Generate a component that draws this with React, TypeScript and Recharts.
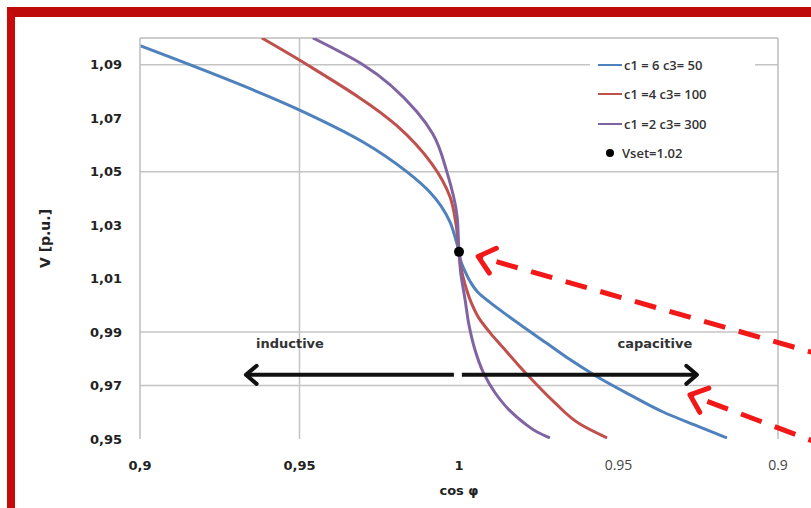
import {
  CartesianGrid,
  ComposedChart,
  Legend,
  Line,
  ReferenceDot,
  ReferenceLine,
  Scatter,
  XAxis,
  YAxis,
} from 'recharts';

// x runs 0.9 (inductive) -> 1 -> 0.9 (capacitive); stored as 0.9..1.1 for a linear scale
const xTicks = [0.9, 0.95, 1, 1.05, 1.1];
const xTickLabels = ['0,9', '0,95', '1', '0.95', '0.9'];
const yTicks = [0.95, 0.97, 0.99, 1.01, 1.03, 1.05, 1.07, 1.09];
const gridY = [0.97, 0.99, 1.05, 1.09];
const gridX = [0.95];

const curveC6 = [
  { x: 0.9, y: 1.0971 },
  { x: 0.9492, y: 1.0735 },
  { x: 0.9699, y: 1.0611 },
  { x: 0.9837, y: 1.0499 },
  { x: 0.9909, y: 1.0423 },
  { x: 0.9972, y: 1.0311 },
  { x: 0.9987, y: 1.0258 },
  { x: 1.0, y: 1.02 },
  { x: 1.0006, y: 1.0164 },
  { x: 1.0019, y: 1.0127 },
  { x: 1.0035, y: 1.0089 },
  { x: 1.006, y: 1.0048 },
  { x: 1.0097, y: 1.0011 },
  { x: 1.0144, y: 0.9969 },
  { x: 1.0201, y: 0.992 },
  { x: 1.0273, y: 0.986 },
  { x: 1.0348, y: 0.9797 },
  { x: 1.0433, y: 0.9733 },
  { x: 1.053, y: 0.9669 },
  { x: 1.064, y: 0.9601 },
  { x: 1.0746, y: 0.9549 },
  { x: 1.084, y: 0.9504 },
];

const curveC4 = [
  { x: 0.9382, y: 1.1 },
  { x: 0.9524, y: 1.09 },
  { x: 0.9806, y: 1.0671 },
  { x: 0.9915, y: 1.0529 },
  { x: 0.9972, y: 1.0405 },
  { x: 0.9991, y: 1.03 },
  { x: 1.0, y: 1.02 },
  { x: 1.0006, y: 1.0142 },
  { x: 1.0019, y: 1.0078 },
  { x: 1.0038, y: 1.0011 },
  { x: 1.0063, y: 0.9951 },
  { x: 1.0097, y: 0.9898 },
  { x: 1.0138, y: 0.9842 },
  { x: 1.0185, y: 0.9778 },
  { x: 1.0235, y: 0.9714 },
  { x: 1.0301, y: 0.9635 },
  { x: 1.0379, y: 0.9556 },
  { x: 1.0464, y: 0.9504 },
];

const curveC2 = [
  { x: 0.9542, y: 1.1 },
  { x: 0.9699, y: 1.09 },
  { x: 0.9868, y: 1.0724 },
  { x: 0.9918, y: 1.0641 },
  { x: 0.9962, y: 1.0499 },
  { x: 0.9994, y: 1.0333 },
  { x: 1.0, y: 1.02 },
  { x: 1.0006, y: 1.0116 },
  { x: 1.0019, y: 1.0022 },
  { x: 1.0031, y: 0.9928 },
  { x: 1.005, y: 0.9834 },
  { x: 1.0075, y: 0.9752 },
  { x: 1.0113, y: 0.9673 },
  { x: 1.0157, y: 0.9609 },
  { x: 1.0204, y: 0.956 },
  { x: 1.0245, y: 0.9526 },
  { x: 1.0285, y: 0.9504 },
];

const vset = [{ x: 1.0, y: 1.02 }];

const series = [
  { name: 'c1 = 6 c3= 50', data: curveC6, color: '#4f81bd' },
  { name: 'c1 =4 c3= 100', data: curveC4, color: '#c0504d' },
  { name: 'c1 =2 c3= 300', data: curveC2, color: '#8064a2' },
];

// annotation arrows: [tail, tip]
const blackArrows = [
  [{ x: 0.9984, y: 0.974 }, { x: 0.9332, y: 0.974 }],
  [{ x: 1.0009, y: 0.974 }, { x: 1.0746, y: 0.974 }],
];
const redArrows = [
  [{ x: 1.116, y: 0.9806 }, { x: 1.006, y: 1.0183 }],
  [{ x: 1.116, y: 0.947 }, { x: 1.0724, y: 0.9665 }],
];
const notes = [
  { text: 'inductive', x: 0.947, y: 0.9853 },
  { text: 'capacitive', x: 1.0614, y: 0.9853 },
];

const arrowShape = (color: string, width: number, head: number, dash?: string) =>
  (p: any) => {
    const { x1, y1, x2, y2 } = p;
    const ang = Math.atan2(y2 - y1, x2 - x1);
    const a = 0.7;
    const h1x = x2 - head * Math.cos(ang - a);
    const h1y = y2 - head * Math.sin(ang - a);
    const h2x = x2 - head * Math.cos(ang + a);
    const h2y = y2 - head * Math.sin(ang + a);
    return (
      <g>
        <line x1={x1} y1={y1} x2={x2 - 2 * Math.cos(ang)} y2={y2 - 2 * Math.sin(ang)}
          stroke={color} strokeWidth={width} strokeDasharray={dash} />
        <polyline points={`${h1x},${h1y} ${x2},${y2} ${h2x},${h2y}`} fill="none"
          stroke={color} strokeWidth={width} strokeLinecap="round" strokeLinejoin="round" />
      </g>
    );
  };

const XTick = ({ x, y, payload }: any) => {
  const i = xTicks.indexOf(payload.value);
  const bold = i < 3;
  return (
    <text x={x} y={y} dy={11} textAnchor="middle"
      fontFamily={bold ? 'DejaVu Sans' : 'Open Sans'} fontSize={bold ? 13 : 14}
      fontWeight={bold ? 700 : 400} fill={bold ? '#222' : '#444'}>
      {xTickLabels[i]}
    </text>
  );
};

const LegendBox = () => (
  <div style={{ background: '#fff', padding: '2px 8px', fontFamily: 'Open Sans', fontSize: 13, fontWeight: 600, color: '#333' }}>
    {series.map((s) => (
      <div key={s.name} style={{ display: 'flex', alignItems: 'center', height: 29.5 }}>
        <span style={{ width: 24, height: 2, background: s.color, marginRight: 2 }} />
        <span>{s.name}</span>
      </div>
    ))}
    <div style={{ display: 'flex', alignItems: 'center', height: 29.5 }}>
      <span style={{ width: 8, height: 8, borderRadius: 4, background: '#000', margin: '0 8px 0 8px' }} />
      <span>Vset=1.02</span>
    </div>
  </div>
);

export default function App() {
  return (
    <div style={{ position: 'absolute', left: 0, top: 0, width: 811, height: 508, background: '#fff', overflow: 'hidden' }}>
      <div style={{
        position: 'absolute', left: 7, top: 7, width: 820, height: 497,
        borderLeft: '8px solid #c80a0a', borderTop: '10px solid #bf0a0a', borderBottom: '2px solid #f19a8c',
      }} />
      <div style={{ position: 'absolute', left: 0, top: 0 }}>
        <ComposedChart width={811} height={508} margin={{ top: 38, right: 33, bottom: 24, left: 0 }}>
          <CartesianGrid horizontalValues={gridY} verticalValues={gridX} stroke="#c4c4c4" strokeWidth={1.5} />
          <XAxis type="number" dataKey="x" domain={[0.9, 1.1]} ticks={xTicks} height={45}
            axisLine={false} tickLine={false} tickSize={0} tickMargin={20} tick={<XTick />}
            allowDataOverflow
            label={{ value: 'cos φ', position: 'bottom', offset: 2, fontFamily: 'DejaVu Sans', fontSize: 13, fontWeight: 700, fill: '#222' }} />
          <YAxis type="number" dataKey="y" domain={[0.95, 1.1]} ticks={yTicks} width={140}
            allowDataOverflow
            axisLine={{ stroke: '#bdbdbd', strokeWidth: 1.5 }} tickLine={false} tickSize={0} tickMargin={18}
            tickFormatter={(v: number) => v.toFixed(2).replace('.', ',')}
            tick={{ fontFamily: 'DejaVu Sans', fontSize: 13, fontWeight: 700, fill: '#222' }}
            label={{
              content: (p: any) => (
                <text x={46} y={p.viewBox.y + p.viewBox.height / 2} transform={`rotate(-90, 46, ${p.viewBox.y + p.viewBox.height / 2})`}
                  textAnchor="middle" dominantBaseline="middle" fontFamily="DejaVu Sans" fontSize={14} fontWeight={700} fill="#222">
                  V [p.u.]
                </text>
              ),
            }} />
          <ReferenceLine y={1.1} stroke="#bdbdbd" strokeWidth={1.5} />
          <ReferenceLine x={1.1} stroke="#bdbdbd" strokeWidth={1.5} />
          <Legend layout="horizontal" verticalAlign="middle" content={<LegendBox />}
            wrapperStyle={{ top: 48, left: 590, width: 165 }} />
          {series.map((s) => (
            <Line key={s.name} data={s.data} dataKey="y" name={s.name} type="monotoneY" stroke={s.color}
              strokeWidth={3} dot={false} isAnimationActive={false} />
          ))}
          <Scatter data={vset} dataKey="y" name="Vset=1.02" fill="#000" isAnimationActive={false}
            shape={(p: any) => <circle cx={p.cx} cy={p.cy} r={5} fill="#000" />} />
          {notes.map((n) => (
            <ReferenceDot key={n.text} x={n.x} y={n.y} ifOverflow="visible"
              shape={(p: any) => (
                <text x={p.cx} y={p.cy} textAnchor="middle" dominantBaseline="middle"
                  fontFamily="DejaVu Sans" fontSize={13} fontWeight={700} fill="#333">{n.text}</text>
              )} />
          ))}
          {blackArrows.map((seg, i) => (
            <ReferenceLine key={`b${i}`} segment={seg} ifOverflow="visible" shape={arrowShape('#111', 4, 14)} />
          ))}
          {redArrows.map((seg, i) => (
            <ReferenceLine key={`r${i}`} segment={seg} ifOverflow="visible" shape={arrowShape('#f21818', 5, 20, '22 14')} />
          ))}
        </ComposedChart>
      </div>
    </div>
  );
}
